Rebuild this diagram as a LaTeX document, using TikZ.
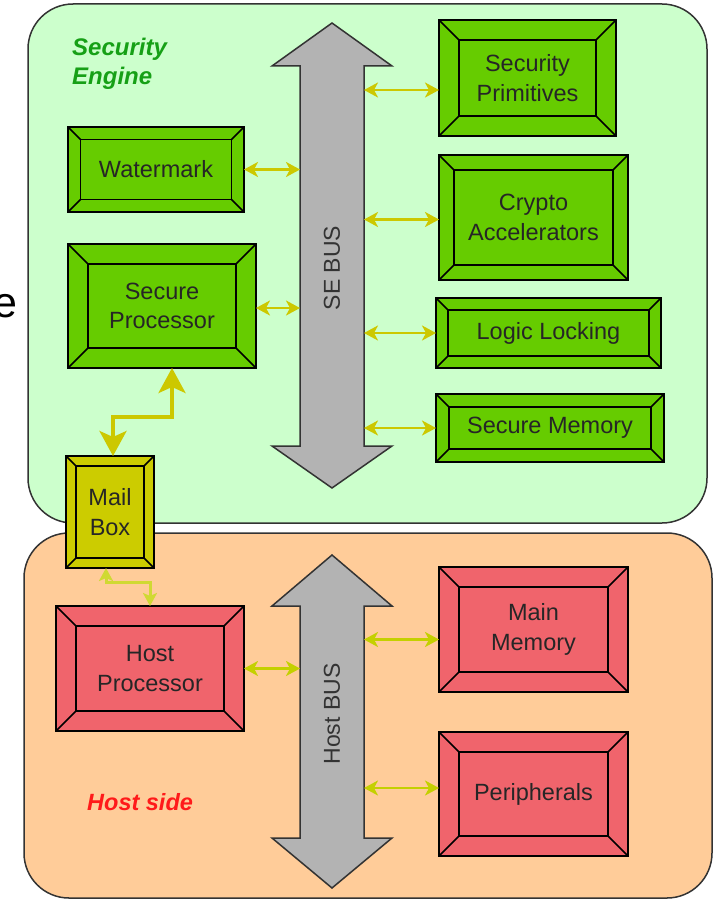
\documentclass[tikz,border=0pt]{standalone}
\usepackage{fontspec}
\setmainfont{Liberation Sans}
\usetikzlibrary{arrows.meta,calc}

\definecolor{sebg}{HTML}{CCFFCC}
\definecolor{hostbg}{HTML}{FFCC99}
\definecolor{greenbox}{HTML}{66CC00}
\definecolor{redbox}{HTML}{F0646C}
\definecolor{mailbox}{HTML}{CCCC00}
\definecolor{busgray}{HTML}{B3B3B3}
\definecolor{selink}{HTML}{CCC800}
\definecolor{hostlink}{HTML}{C4D000}
\definecolor{frame}{HTML}{333333}
\definecolor{setitle}{HTML}{16A016}
\definecolor{hosttitle}{HTML}{FF1A1A}

\tikzset{
  container/.style={draw=frame, line width=1.5pt, rounded corners=45pt},
  bbox/.style={draw=black, line width=1.6pt, inner sep=0pt, outer sep=0pt},
  bline/.style={draw=black, line width=1.6pt, line cap=round},
  boxtext/.style={font=\fontsize{23.5}{29.5}\selectfont, text=black!85,
    align=center, inner sep=0pt},
  bus/.style={draw=frame, line width=1.5pt, fill=busgray, line join=miter},
  buslabel/.style={font=\fontsize{23}{28}\selectfont, text=black!80, rotate=90},
  shaft/.style={inner sep=0pt, outer sep=0pt, minimum width=64pt},
  link/.style={line width=2.4pt,
    {Stealth[length=14pt,width=15pt,inset=4pt]}-{Stealth[length=14pt,width=15pt,inset=4pt]}},
  selinkstyle/.style={link, draw=selink},
  hostlinkstyle/.style={link, draw=hostlink},
  mboxlink/.style={draw=selink, line width=3.6pt,
    {Stealth[length=25pt,width=27pt,inset=6pt]}-{Stealth[length=25pt,width=27pt,inset=6pt]}},
  hboxlink/.style={draw=hostlink!80!white, line width=3pt,
    {Stealth[length=13pt,width=14pt,inset=3pt]}-{Stealth[length=13pt,width=14pt,inset=3pt]}},
}

% bevelled block: name, x1, y1, x2, y2, bevel, fill, text
\newcommand\bevbox[8]{%
  \node[bbox, fill=#7, minimum width={#4-#2}, minimum height={#5-#3}]
    (#1) at ({(#2+#4)/2},{(#3+#5)/2}) {};
  \draw[bline] ($(#1.north west)+(#6,#6)$) rectangle ($(#1.south east)+(-#6,-#6)$);
  \draw[bline] (#1.north west) -- ++(#6,#6);
  \draw[bline] (#1.north east) -- ++(-#6,#6);
  \draw[bline] (#1.south west) -- ++(#6,-#6);
  \draw[bline] (#1.south east) -- ++(-#6,-#6);
  \node[boxtext] (#1-t) at (#1.center) {#8};
}

\begin{document}
\begin{tikzpicture}[x=1pt,y=-1pt]
\useasboundingbox (0,0) rectangle (713,899);
\clip (0,0) rectangle (713,899);

% stray letter cut by the left edge
\node[anchor=base east, inner sep=0pt, font=\fontsize{43}{50}\selectfont]
  (edgee) at (18,317) {e};

% the two domains
\draw[container, fill=sebg] (28,4) rectangle (707,523);
\draw[container, fill=hostbg] (24,533) rectangle (712,898);

\node[anchor=north west, inner sep=0pt, align=left, text=setitle,
  font=\fontsize{24}{28.5}\selectfont\bfseries\itshape] (setitle) at (72,38)
  {Security\\Engine};
\node[anchor=base west, inner sep=0pt, text=hosttitle,
  font=\fontsize{23.5}{28}\selectfont\bfseries\itshape] (hosttitle) at (87,810)
  {Host side};

% buses
\draw[bus] (332,23) -- (392,66) -- (364,66) -- (364,446) -- (392,446)
  -- (332,488) -- (272,446) -- (300,446) -- (300,66) -- (272,66) -- cycle;
\node[shaft, minimum height=380pt] (sebus) at (332,256) {};
\node[buslabel] (sebuslabel) at (332,268) {SE BUS};

\draw[bus] (332,555) -- (392,606) -- (364,606) -- (364,838) -- (392,838)
  -- (332,888) -- (272,838) -- (300,838) -- (300,606) -- (272,606) -- cycle;
\node[shaft, minimum height=232pt] (hostbus) at (332,722) {};
\node[buslabel] (hostbuslabel) at (332,714) {Host BUS};

% security engine blocks
\bevbox{wm}{68}{127}{244}{212}{12.5}{greenbox}{Watermark}
\bevbox{spro}{68}{244}{256}{368}{20}{greenbox}{Secure\\Processor}
\bevbox{prim}{439}{20}{616}{136}{20}{greenbox}{Security\\Primitives}
\bevbox{crypto}{439}{155}{628}{280}{15}{greenbox}{Crypto\\Accelerators}
\bevbox{lock}{436}{298}{661}{368}{12}{greenbox}{Logic Locking}
\bevbox{smem}{436}{394}{664}{462}{13}{greenbox}{Secure Memory}

% host blocks
\bevbox{hp}{56}{606}{244}{731}{20}{redbox}{Host\\Processor}
\bevbox{mm}{439}{567}{628}{692}{20}{redbox}{Main\\Memory}
\bevbox{per}{439}{732}{628}{856}{20}{redbox}{Peripherals}

% mailbox between both sides
\bevbox{mb}{66}{456}{154}{568}{10}{mailbox}{Mail\\Box}

% bus connections
\draw[selinkstyle] (wm.east) -- (wm.east -| sebus.west);
\coordinate (sproout) at ($(spro.east)+(0,2)$);
\draw[selinkstyle] (sproout) -- (sproout -| sebus.west);
\coordinate (primin) at ($(prim.west)+(0,12)$);
\draw[selinkstyle] (primin -| sebus.east) -- (primin);
\coordinate (cryptoin) at ($(crypto.west)+(0,2)$);
\draw[selinkstyle] (cryptoin -| sebus.east) -- (cryptoin);
\draw[selinkstyle] (lock.west -| sebus.east) -- (lock.west);
\draw[selinkstyle] (smem.west -| sebus.east) -- (smem.west);

\draw[hostlinkstyle] (hp.east) -- (hp.east -| hostbus.west);
\coordinate (mmin) at ($(mm.west)+(0,10)$);
\draw[hostlinkstyle] (mmin -| hostbus.east) -- (mmin);
\coordinate (perin) at ($(per.west)+(0,-6)$);
\draw[hostlinkstyle] (perin -| hostbus.east) -- (perin);

% mailbox links
\draw[mboxlink] ($(mb.north)+(3,0)$) -- ++(0,-39) -| ($(spro.south)+(10,0)$);
\draw[hboxlink] ($(mb.south)+(-4,0)$) -- ++(0,14) -| (hp.north);

\end{tikzpicture}
\end{document}
